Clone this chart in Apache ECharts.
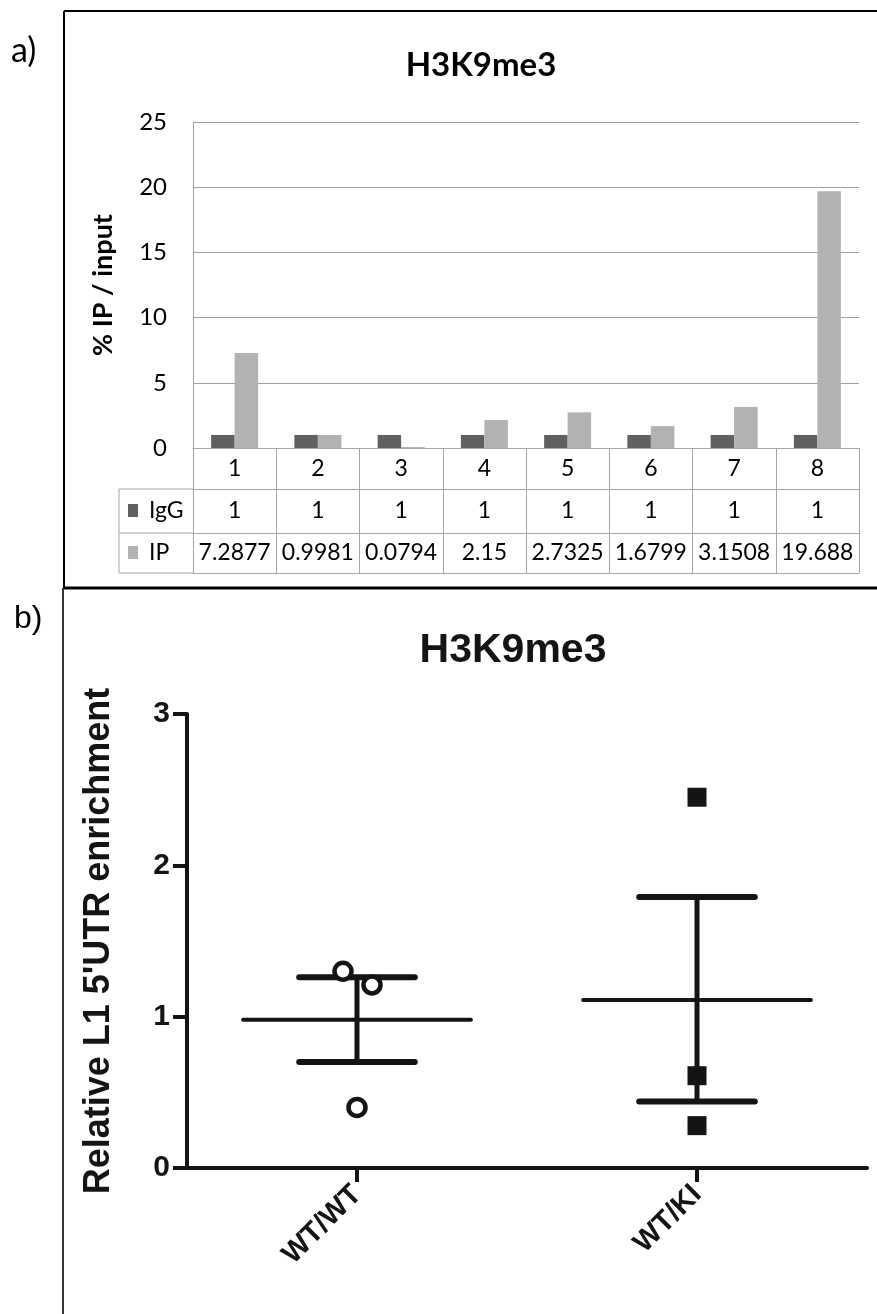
<!DOCTYPE html>
<html>
<head>
<meta charset="utf-8">
<style>
  html, body { margin: 0; padding: 0; background: #ffffff; }
  #chart { width: 877px; height: 1314px; }
</style>
<script src="https://cdn.jsdelivr.net/npm/echarts@6/dist/echarts.min.js"></script>
</head>
<body>
<div id="chart"></div>
<script>
// Panel a: ChIP-qPCR, % IP / input per amplicon
const categories = ['1', '2', '3', '4', '5', '6', '7', '8'];
const iggValues = [1, 1, 1, 1, 1, 1, 1, 1];
const ipValues = [7.2877, 0.9981, 0.0794, 2.15, 2.7325, 1.6799, 3.1508, 19.688];

// Panel b: relative L1 5'UTR enrichment per genotype
const groups = ['WT/WT', 'WT/KI'];
const wtwtValues = [1.30, 1.21, 0.40];
const wtkiValues = [2.45, 0.61, 0.28];
const groupMeans = [0.98, 1.11];
const semLower = [0.70, 0.44];
const semUpper = [1.26, 1.79];

const chart = echarts.init(document.getElementById('chart'), null, { renderer: 'canvas' });

const XL = 'Lato, "Open Sans", sans-serif';
const AR = '"Liberation Sans", Arial, sans-serif';
const TABLE_LINE = '#a6a6a6';
const INK = '#141414';

// horizontal spread of overlapping points within a column (pixels)
const wtwtSpread = [-14, 15, 0];
const wtkiSpread = [0, 0, 0];

function tableAxis(offset, rowHeight, formatter, showLabel) {
  return {
    type: 'category', gridIndex: 0, data: categories, position: 'bottom', offset: offset,
    boundaryGap: true,
    axisLine: { show: true, lineStyle: { color: TABLE_LINE, width: 1 } },
    axisTick: { show: rowHeight > 0, interval: 0, length: rowHeight, lineStyle: { color: TABLE_LINE, width: 1 } },
    axisLabel: {
      show: showLabel, interval: 0, margin: rowHeight / 2, verticalAlign: 'middle',
      fontFamily: XL, fontSize: 23, color: '#000', formatter: formatter
    }
  };
}

const option = {
  backgroundColor: '#ffffff',
  animation: false,
  title: [
    { text: 'H3K9me3', left: 476, top: 44, textAlign: 'center',
      textStyle: { fontFamily: XL, fontWeight: 'bold', fontSize: 33, color: '#000' } },
    { text: 'H3K9me3', left: 508, top: 625, textAlign: 'center',
      textStyle: { fontFamily: AR, fontWeight: 'bold', fontSize: 41, color: INK } }
  ],
  grid: [
    { left: 193, top: 122, width: 666, height: 326 },
    { left: 187, top: 714, width: 680, height: 454 }
  ],
  xAxis: [
    tableAxis(0, 41, (v) => v, true),
    tableAxis(41, 44, (v, i) => String(iggValues[i]), true),
    tableAxis(85, 40, (v, i) => String(ipValues[i]), true),
    tableAxis(125, 0, (v) => '', false),
    {
      type: 'category', gridIndex: 1, data: groups, boundaryGap: true,
      axisLine: { show: true, lineStyle: { color: INK, width: 4 } },
      axisTick: { show: true, alignWithLabel: true, length: 14, lineStyle: { color: INK, width: 4 } },
      axisLabel: { rotate: 45, margin: 22, fontFamily: AR, fontWeight: 'bold', fontSize: 29, color: INK }
    }
  ],
  yAxis: [
    {
      type: 'value', gridIndex: 0, min: 0, max: 25, interval: 5,
      name: '% IP / input', nameLocation: 'middle', nameGap: 76, nameRotate: 90,
      nameTextStyle: { fontFamily: XL, fontWeight: 'bold', fontSize: 27, color: '#000' },
      axisLine: { show: true, lineStyle: { color: '#a0a0a0', width: 1 } },
      axisTick: { show: false },
      axisLabel: { margin: 26, fontFamily: XL, fontSize: 24, color: '#000' },
      splitLine: { show: true, lineStyle: { color: '#a0a0a0', width: 1 } }
    },
    {
      type: 'value', gridIndex: 1, min: 0, max: 3, interval: 1,
      name: "Relative L1 5'UTR enrichment", nameLocation: 'middle', nameGap: 70, nameRotate: 90,
      nameTextStyle: { fontFamily: AR, fontWeight: 'bold', fontSize: 36, color: INK },
      axisLine: { show: true, lineStyle: { color: INK, width: 4 } },
      axisTick: { show: true, length: 14, lineStyle: { color: INK, width: 4 } },
      axisLabel: { margin: 17, fontFamily: AR, fontWeight: 'bold', fontSize: 30, color: INK },
      splitLine: { show: false }
    }
  ],
  series: [
    {
      name: 'IgG', type: 'bar', xAxisIndex: 0, yAxisIndex: 0, data: iggValues,
      barWidth: 23.5, barGap: '0%', itemStyle: { color: '#606060' }
    },
    {
      name: 'IP', type: 'bar', xAxisIndex: 0, yAxisIndex: 0, data: ipValues,
      barWidth: 23.5, barGap: '0%', itemStyle: { color: '#b2b2b2' }
    },
    {
      // mean with SEM whiskers
      type: 'custom', xAxisIndex: 4, yAxisIndex: 1, z: 2,
      data: groups.map((g, i) => [i, groupMeans[i], semLower[i], semUpper[i]]),
      encode: { x: 0, y: [1, 2, 3] },
      renderItem: function (params, api) {
        const idx = api.value(0);
        const pMean = api.coord([idx, api.value(1)]);
        const pLo = api.coord([idx, api.value(2)]);
        const pHi = api.coord([idx, api.value(3)]);
        const band = api.size([1, 0])[0];
        const meanHalf = band * 0.335;
        const capHalf = band * 0.17;
        const x = pMean[0];
        const st = (w) => ({ stroke: INK, lineWidth: w, lineCap: 'round' });
        return {
          type: 'group',
          children: [
            { type: 'line', shape: { x1: x - meanHalf, y1: pMean[1], x2: x + meanHalf, y2: pMean[1] }, style: st(4) },
            { type: 'line', shape: { x1: x, y1: pLo[1], x2: x, y2: pHi[1] }, style: Object.assign(st(5), { lineCap: 'butt' }) },
            { type: 'line', shape: { x1: x - capHalf, y1: pLo[1], x2: x + capHalf, y2: pLo[1] }, style: st(6) },
            { type: 'line', shape: { x1: x - capHalf, y1: pHi[1], x2: x + capHalf, y2: pHi[1] }, style: st(6) }
          ]
        };
      }
    },
    {
      name: 'WT/WT', type: 'scatter', xAxisIndex: 4, yAxisIndex: 1, z: 3,
      symbol: 'circle', symbolSize: 17,
      itemStyle: { color: '#ffffff', borderColor: INK, borderWidth: 4.5, opacity: 1 },
      data: wtwtValues.map((v, i) => ({ value: [0, v], symbolOffset: [wtwtSpread[i], 0] }))
    },
    {
      name: 'WT/KI', type: 'scatter', xAxisIndex: 4, yAxisIndex: 1, z: 3,
      symbol: 'rect', symbolSize: 19,
      itemStyle: { color: INK, opacity: 1 },
      data: wtkiValues.map((v, i) => ({ value: [1, v], symbolOffset: [wtkiSpread[i], 0] }))
    }
  ],
  graphic: [
    // panel frames
    { type: 'line', shape: { x1: 64, y1: 11, x2: 877, y2: 11 }, style: { stroke: '#000', lineWidth: 2 } },
    { type: 'line', shape: { x1: 64, y1: 11, x2: 64, y2: 588 }, style: { stroke: '#000', lineWidth: 2 } },
    { type: 'line', shape: { x1: 63, y1: 588, x2: 877, y2: 588 }, style: { stroke: '#000', lineWidth: 3 } },
    { type: 'line', shape: { x1: 63, y1: 588, x2: 63, y2: 1314 }, style: { stroke: '#333', lineWidth: 2 } },
    // panel letters
    { type: 'text', x: 11, y: 34, style: { text: 'a)', font: '34px ' + XL, fill: '#000' } },
    { type: 'text', x: 14, y: 603, style: { text: 'b)', font: '32px ' + AR, fill: '#000' } },
    // legend column of the data table
    { type: 'line', shape: { x1: 119, y1: 489, x2: 193, y2: 489 }, style: { stroke: TABLE_LINE, lineWidth: 1 } },
    { type: 'line', shape: { x1: 119, y1: 533, x2: 193, y2: 533 }, style: { stroke: TABLE_LINE, lineWidth: 1 } },
    { type: 'line', shape: { x1: 119, y1: 573, x2: 193, y2: 573 }, style: { stroke: TABLE_LINE, lineWidth: 1 } },
    { type: 'line', shape: { x1: 119, y1: 489, x2: 119, y2: 573 }, style: { stroke: TABLE_LINE, lineWidth: 1 } },
    { type: 'rect', shape: { x: 128, y: 504, width: 10, height: 13 }, style: { fill: '#606060' } },
    { type: 'text', x: 149, y: 511, style: { text: 'IgG', font: '23px ' + XL, fill: '#000', verticalAlign: 'middle' } },
    { type: 'rect', shape: { x: 128, y: 546, width: 10, height: 13 }, style: { fill: '#b2b2b2' } },
    { type: 'text', x: 149, y: 553, style: { text: 'IP', font: '23px ' + XL, fill: '#000', verticalAlign: 'middle' } }
  ]
};

chart.setOption(option);
</script>
</body>
</html>
